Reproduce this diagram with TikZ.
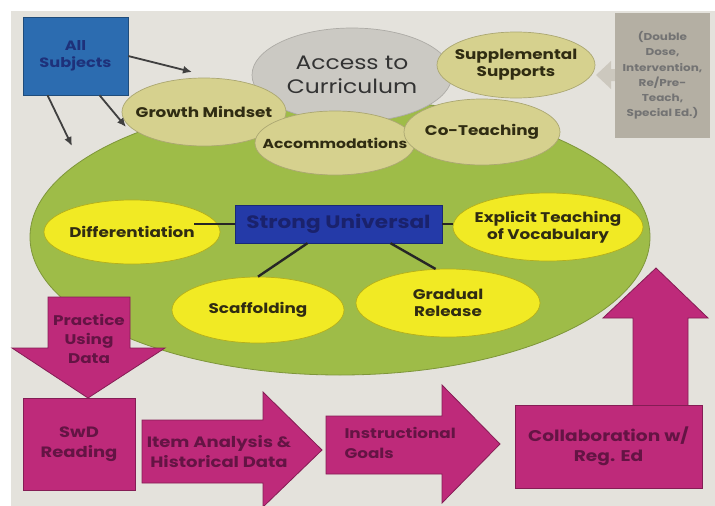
\documentclass[tikz,border=0pt]{standalone}
\usepackage{fontspec}
\setmainfont{Poppins}[FakeStretch=1.2]
\usetikzlibrary{arrows.meta,shapes.geometric}
\definecolor{paper}{RGB}{228,226,220}
\definecolor{core}{RGB}{158,188,72}
\definecolor{haze}{RGB}{203,201,195}
\definecolor{sand}{RGB}{214,209,142}
\definecolor{lemon}{RGB}{241,234,36}
\definecolor{sky}{RGB}{44,108,176}
\definecolor{navy}{RGB}{36,58,168}
\definecolor{ink}{RGB}{26,34,108}
\definecolor{stone}{RGB}{180,175,163}
\definecolor{pebble}{RGB}{204,200,190}
\definecolor{berry}{RGB}{190,42,122}
\definecolor{plum}{RGB}{100,20,68}
\definecolor{olive}{RGB}{48,44,18}
\tikzset{
  >={Latex[length=9pt,width=8pt]},
  lbl/.style={font=\bfseries\fontsize{14}{17}\selectfont, text=olive, align=center},
  oval/.style={ellipse, inner sep=0pt, line width=0.7pt},
  sandoval/.style={oval, fill=sand, draw=sand!80!black},
  lemonoval/.style={oval, fill=lemon, draw=lemon!75!black},
  tie/.style={draw=black!85, line width=2.4pt},
  ptr/.style={draw=black!75, line width=1.8pt, ->},
  blk/.style={fill=berry, draw=berry!70!black, line width=0.8pt},
  blktxt/.style={font=\bfseries\fontsize{15}{20}\selectfont, text=plum, align=center},
}

\begin{document}
\begin{tikzpicture}[x=1pt,y=-1pt]
\useasboundingbox (0,0) rectangle (715,506);
% page and slide
\fill[white] (0,0) rectangle (715,506);
\fill[paper] (11,11) rectangle (715,506);
% big green oval behind everything
\node[ellipse, fill=core, draw=core!80!black, line width=0.8pt,
  minimum width=620, minimum height=276] (core) at (340,237) {};
% access to curriculum cluster
\node[oval, fill=haze, draw=haze!85!black, minimum width=200, minimum height=94,
  label={[align=center, text=black!80, font=\fontsize{19.5}{24}\selectfont]center:Access to\\Curriculum}]
  (acc) at (352,75) {};
\node[sandoval, minimum width=164, minimum height=68, label={[lbl]center:Growth Mindset}] (grow) at (204,112) {};
\node[sandoval, minimum width=158, minimum height=66, label={[lbl]center:Supplemental\\Supports}] (supp) at (516,65) {};
\node[sandoval, minimum width=160, minimum height=64,
  label={[lbl, font=\bfseries\fontsize{13}{17}\selectfont]center:Accommodations}] (accom) at (335,143) {};
\node[sandoval, minimum width=156, minimum height=66, label={[lbl]center:Co-Teaching}] (cot) at (482,132) {};
% all subjects and its pointers
\node[draw=sky!70!black, fill=sky, minimum width=105, minimum height=78, align=center,
  text=ink!80!sky, font=\bfseries\fontsize{13.5}{17}\selectfont] (all) at (75.5,56) {All\\Subjects};
\coordinate (p1) at (192,72);
\coordinate (p2) at (126,127);
\coordinate (p3) at (72,146);
\draw[ptr] (all.east) -- (p1);
\draw[ptr] ([xshift=24pt]all.south) -- (p2);
\draw[ptr] ([xshift=-28pt]all.south) -- (p3);
% grey arrow into supplemental supports
\fill[pebble] (618,69) -- (611,69) -- (611,61) -- (596,75) -- (611,89) -- (611,81) -- (618,81) -- cycle;
\node[fill=stone, minimum width=95, minimum height=125, align=center, text=black!55,
  font=\bfseries\fontsize{10}{15.2}\selectfont] (side) at (662.5,75.5)
  {(Double\\Dose,\\Intervention,\\Re/Pre-\\Teach,\\Special Ed.)};
% strong universal hub
\node[lemonoval, minimum width=176, minimum height=64, label={[lbl]center:Differentiation}] (dif) at (132,232) {};
\node[lemonoval, minimum width=190, minimum height=68, label={[lbl]center:Explicit Teaching\\of Vocabulary}] (voc) at (548,227) {};
\node[lemonoval, minimum width=172, minimum height=66, label={[lbl]center:Scaffolding}] (scf) at (258,310) {};
\node[lemonoval, minimum width=184, minimum height=68, label={[lbl]center:Gradual\\Release}] (grd) at (448,303) {};
\node[draw=navy!70!black, fill=navy, minimum width=207, minimum height=38, text=ink,
  font=\bfseries\fontsize{18}{20}\selectfont] (su) at (338.5,224) {Strong Universal};
\draw[tie] (su.west) -- (su.west -| dif.north east);
\draw[tie] (su.east) -- (su.east -| voc.west);
\draw[tie] ([xshift=-31pt]su.south) -- (scf.north);
\draw[tie] ([xshift=52pt]su.south) -- (grd.110);
% data cycle along the bottom
\path[blk] (48,297) -- (130,297) -- (130,348) -- (165,348) -- (88,398) -- (12,348) -- (48,348) -- cycle;
\node[blktxt, font=\bfseries\fontsize{14}{19}\selectfont] (prac) at (89,339) {Practice\\Using\\Data};
\node[blk, blktxt, minimum width=112, minimum height=92] (swd) at (79,444) {SwD\\Reading};
\path[blk] (142,420) -- (263,420) -- (263,392) -- (322,450) -- (263,507) -- (263,483) -- (142,483) -- cycle;
\node[blktxt] (item) at (219,452) {Item Analysis \&\\Historical Data};
\path[blk] (326,416) -- (442,416) -- (442,385) -- (500,444) -- (442,503) -- (442,474) -- (326,474) -- cycle;
\node[blktxt, font=\bfseries\fontsize{14}{20}\selectfont, align=left, anchor=west] (goal) at (341,443) {Instructional\\Goals};
\path[blk] (633,406) -- (633,318) -- (603,318) -- (656,268) -- (708,318) -- (688,318) -- (688,406) -- cycle;
\node[blk, blktxt, font=\bfseries\fontsize{15.5}{20}\selectfont, minimum width=187, minimum height=83] (col) at (608.5,446.5) {Collaboration w/\\Reg. Ed};
\end{tikzpicture}
\end{document}
